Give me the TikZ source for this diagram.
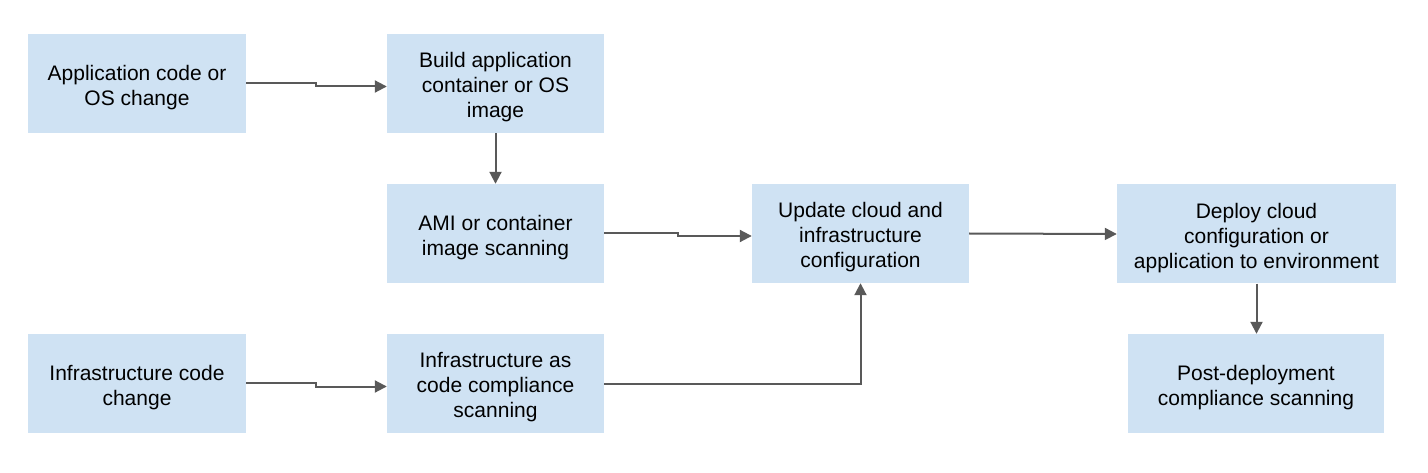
\documentclass[tikz,border=0pt]{standalone}
\usepackage{fontspec}
\setmainfont{Liberation Sans}
\usetikzlibrary{arrows.meta,positioning}
\definecolor{boxblue}{HTML}{CFE2F3}
\definecolor{arrowgray}{HTML}{595959}
\newcommand{\topstrut}{\rule{0pt}{23pt}}

\begin{document}
\begin{tikzpicture}[x=1pt,y=-1pt,
    stepbox/.style={fill=boxblue,draw=none,minimum width=217pt,minimum height=99pt,
      align=center,inner sep=0pt,font=\fontsize{21}{25}\selectfont},
    flow/.style={draw=arrowgray,line width=2pt,-{Triangle[length=12pt,width=12pt]}}]
    \useasboundingbox (0,0) rectangle (1428,473);

    % top row
    \node[stepbox,minimum width=218pt] (appchange) at (137,83.5) {\topstrut Application code or\\OS change};
    \node[stepbox] (build) at (495.5,83.5) {\topstrut Build application\\container or OS\\image};
    \node[stepbox] (scan) at (495.5,233.5) {\topstrut AMI or container\\image scanning};
    \node[stepbox] (update) at (860.5,233.5) {\topstrut Update cloud and\\infrastructure\\configuration};
    \node[stepbox,minimum width=279pt] (deploy) at (1256.5,234) {\topstrut Deploy cloud\\configuration or\\application to environment};
    \node[stepbox,minimum width=256pt] (postscan) at (1256,383.5) {\topstrut Post-deployment\\compliance scanning};

    % bottom row
    \node[stepbox,minimum width=218pt] (infchange) at (137,383.5) {\topstrut Infrastructure code\\change};
    \node[stepbox] (iacscan) at (495.5,383.5) {\topstrut Infrastructure as\\code compliance\\scanning};

    % connectors
    \draw[flow] ([yshift=0.5]appchange.east) -- ++(70,0) |- ([yshift=-3]build.west);
    \draw[flow] (build.south) -- (scan.north);
    \draw[flow] ([yshift=0.5]scan.east) -- ++(74,0) |- ([yshift=-2.5]update.west);
    \draw[flow] (update.east) -- (deploy.west);
    \draw[flow] (deploy.south) -- (deploy.south |- postscan.north);
    \draw[flow] ([yshift=0.5]infchange.east) -- ++(70,0) |- ([yshift=-3]iacscan.west);
    \draw[flow] (iacscan.east) -| (update.south);
\end{tikzpicture}
\end{document}
